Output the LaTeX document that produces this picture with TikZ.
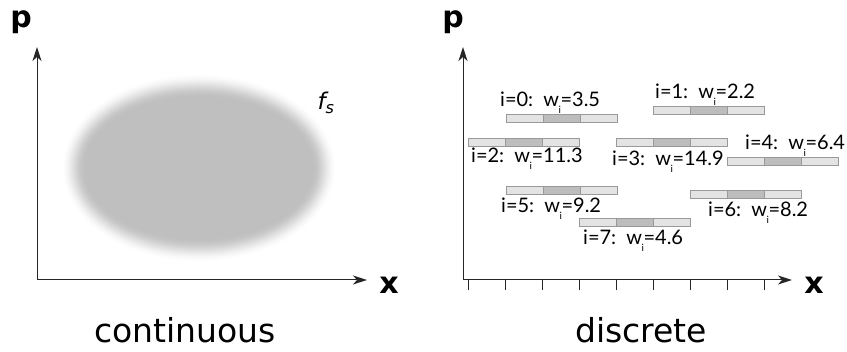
\documentclass[tikz,border=0pt]{standalone}
\usepackage{fontspec}
\setmainfont{DejaVu Sans}
\newfontfamily\latofont{Lato}
\usepackage{tikz}
\usetikzlibrary{arrows.meta, positioning}

\tikzset{
  axis/.style={line width=1pt, black!85, -{Stealth[length=14pt, width=9pt, inset=4pt]}},
  seg/.style={draw=black!40, line width=0.8pt, fill=black!11, minimum width=37pt,
    minimum height=8pt, inner sep=0pt, outer sep=0pt},
  midseg/.style={seg, fill=black!26},
  lbl/.style={font=\latofont\fontsize{20}{22}\selectfont, inner sep=0pt, anchor=base west},
  axlabel/.style={font=\bfseries\fontsize{30}{32}\selectfont, inner sep=0pt},
  title/.style={font=\fontsize{33}{36}\selectfont, inner sep=0pt, anchor=base}
}
\newcommand{\wsub}{\kern-0.5pt\raisebox{-7pt}{\latofont\fontsize{10}{10}\selectfont i}\kern-0.5pt}

\begin{document}
\begin{tikzpicture}[x=1pt, y=-1pt]
  \useasboundingbox (0,0) rectangle (847,352);

  % continuous
  \foreach \k in {0,...,23} {
    \pgfmathsetmacro\s{(\k+1)/24}
    \pgfmathsetmacro\gr{25*\s*\s*(3-2*\s)}
    \pgfmathsetmacro\rx{114+(23-\k)*1}
    \pgfmathsetmacro\ry{71+(23-\k)*1}
    \fill[black!\gr] (199,168) ellipse [x radius=\rx, y radius=\ry];
  }
  \node[font=\itshape\fontsize{23}{24}\selectfont, inner sep=0pt] (fs) at (326,103) {f\textsubscript{s}};

  \coordinate (o1) at (37,280);
  \coordinate (py1) at (37,47);
  \coordinate (px1) at (367,280);
  \draw[axis] (o1) -- (py1);
  \draw[axis] (o1) -- (px1);
  \node[axlabel] (p1) at (21,22) {p};
  \node[axlabel] (x1) at (389,285) {x};
  \node[title] (cont) at (185,343) {continuous};

  % discrete
  \coordinate (o2) at (463,280);
  \coordinate (py2) at (463,47);
  \coordinate (px2) at (792,280);
  \draw[axis] (o2) -- (py2);
  \draw[axis] (o2) -- (px2);
  \foreach \t in {0,...,8}
    \draw[line width=1pt, black!85] (468+\t*37,280) -- (468+\t*37,290);
  \node[axlabel] (p2) at (453,22) {p};
  \node[axlabel] (x2) at (814,285) {x};
  \node[title] (disc) at (641,343) {discrete};

  % particles
  \foreach \i/\bx/\by/\lx/\ly/\w in {0/506/114/500/107/3.5, 1/653/106/655/99/2.2,
      2/468/138/471/163/11.3, 3/616/138.5/612/165.5/14.9, 4/727/157/745/150/6.4,
      5/506/186/501/213/9.2, 6/690/190.5/708/217/8.2, 7/579/218/583/245/4.6} {
    \node[seg, anchor=north west] (barL\i) at (\bx,\by) {};
    \node[midseg, right=0pt of barL\i] (bar\i) {};
    \node[seg, right=0pt of bar\i] (barR\i) {};
    \node[lbl] (t\i) at (\lx,\ly) {i=\i:\ \ w\wsub=\w};
  }
\end{tikzpicture}
\end{document}
